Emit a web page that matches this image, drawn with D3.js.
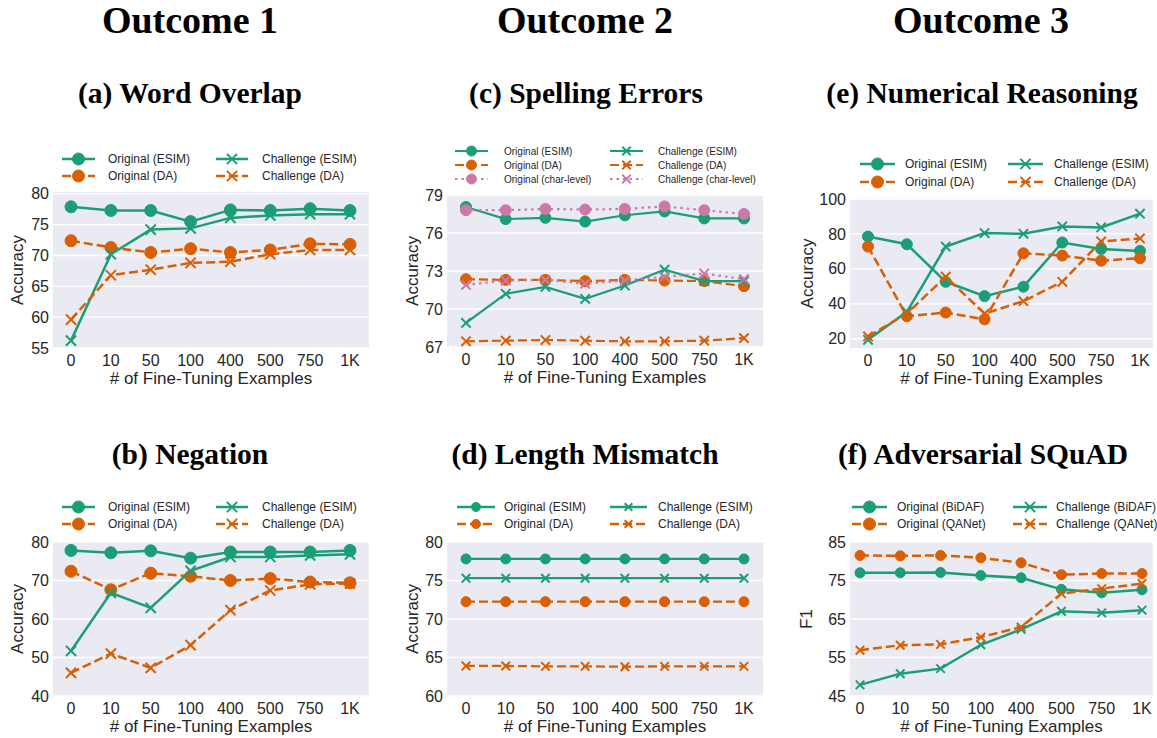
<!DOCTYPE html>
<html><head><meta charset="utf-8">
<script src="https://cdn.jsdelivr.net/npm/d3@7"></script>
<style>body{margin:0;background:#fff}svg{display:block}</style>
</head><body>
<svg id="chart" width="1157" height="738"></svg>
<script>
// ---------- data ----------
const xLabels = ["0","10","50","100","400","500","750","1K"];

const overlapOrigESIM = [77.9, 77.3, 77.3, 75.5, 77.4, 77.3, 77.6, 77.3];
const overlapChalESIM = [56.2, 70.2, 74.2, 74.4, 76.1, 76.5, 76.7, 76.7];
const overlapOrigDA   = [72.4, 71.3, 70.5, 71.1, 70.5, 70.9, 71.9, 71.8];
const overlapChalDA   = [59.6, 66.8, 67.7, 68.8, 69.0, 70.2, 70.9, 70.9];
const overlapTicks    = [55, 60, 65, 70, 75, 80];

const negOrigESIM = [77.8, 77.2, 77.7, 75.8, 77.4, 77.4, 77.4, 77.8];
const negChalESIM = [51.7, 66.8, 62.9, 72.5, 76.1, 76.1, 76.5, 76.8];
const negOrigDA   = [72.4, 67.6, 71.9, 71.1, 70.0, 70.5, 69.6, 69.4];
const negChalDA   = [46.0, 51.0, 47.3, 53.2, 62.3, 67.4, 69.0, 69.2];
const negTicks    = [40, 50, 60, 70, 80];

const spellOrigESIM = [78.05, 77.1, 77.2, 76.9, 77.4, 77.7, 77.15, 77.15];
const spellChalESIM = [68.9, 71.2, 71.75, 70.8, 71.85, 73.1, 72.2, 72.2];
const spellOrigDA   = [72.35, 72.3, 72.3, 72.2, 72.3, 72.25, 72.2, 71.8];
const spellChalDA   = [67.45, 67.5, 67.55, 67.5, 67.45, 67.45, 67.5, 67.7];
const spellOrigChar = [77.8, 77.8, 77.9, 77.85, 77.9, 78.1, 77.8, 77.5];
const spellChalChar = [71.9, 72.25, 72.3, 72.0, 72.25, 72.55, 72.8, 72.35];
const spellTicks    = [67, 70, 73, 76, 79];

const lenOrigESIM = [77.8, 77.8, 77.8, 77.8, 77.8, 77.8, 77.8, 77.8];
const lenChalESIM = [75.3, 75.3, 75.3, 75.3, 75.3, 75.3, 75.3, 75.3];
const lenOrigDA   = [72.25, 72.25, 72.25, 72.25, 72.25, 72.25, 72.25, 72.25];
const lenChalDA   = [63.9, 63.9, 63.85, 63.85, 63.8, 63.85, 63.85, 63.85];
const lenTicks    = [60, 65, 70, 75, 80];

const numOrigESIM = [78.5, 74.1, 52.6, 44.4, 49.8, 75.1, 71.4, 70.3];
const numChalESIM = [19.4, 35.4, 72.8, 80.5, 80.1, 84.3, 83.7, 91.6];
const numOrigDA   = [72.8, 32.9, 35.0, 31.1, 68.9, 67.6, 64.7, 66.1];
const numChalDA   = [21.3, 34.4, 55.5, 34.4, 41.5, 52.6, 75.7, 77.4];
const numTicks    = [20, 40, 60, 80, 100];

const squadOrigBiDAF = [77.0, 77.0, 77.1, 76.3, 75.7, 72.7, 71.8, 72.6];
const squadChalBiDAF = [47.9, 50.8, 52.1, 58.3, 62.3, 67.0, 66.6, 67.3];
const squadOrigQANet = [81.5, 81.4, 81.5, 80.9, 79.6, 76.5, 76.8, 76.8];
const squadChalQANet = [56.9, 58.2, 58.4, 60.3, 62.9, 71.6, 72.9, 74.2];
const squadTicks     = [45, 55, 65, 75, 85];

const outcomeTitles = ["Outcome 1", "Outcome 2", "Outcome 3"];

// ---------- styles ----------
const GREEN = "#1b9e77", ORANGE = "#d95f02", PINK = "#cc78a8";
const SOLID = null, DASH = "9,4", DOT = "2.5,4";
const SANS = "'Liberation Sans', Arial, sans-serif";
const SERIF = "'Liberation Serif', 'Times New Roman', serif";

const svg = d3.select("#chart");

function markerPath(sel, shape, r) {
  if (shape === "o") {
    sel.append("circle").attr("r", r);
  } else {
    const s = r * 0.85;
    sel.append("path").attr("d", `M${-s},${-s}L${s},${s}M${-s},${s}L${s},${-s}`)
      .attr("fill", "none").attr("stroke-width", 2);
  }
}

function drawPanel(cfg) {
  const g = svg.append("g");
  const x = d3.scalePoint().domain(xLabels).range(cfg.xr);
  const y = d3.scaleLinear().domain(cfg.yd).range([cfg.bottom, cfg.top]);

  g.append("rect").attr("x", cfg.left).attr("y", cfg.top)
    .attr("width", cfg.right - cfg.left).attr("height", cfg.bottom - cfg.top)
    .attr("fill", "#eaeaf2");

  g.selectAll(".grid").data(cfg.ticks).enter().append("line")
    .attr("x1", cfg.left).attr("x2", cfg.right)
    .attr("y1", d => y(d)).attr("y2", d => y(d))
    .attr("stroke", "#fff").attr("stroke-width", 1.3);

  g.selectAll(".yt").data(cfg.ticks).enter().append("text")
    .attr("x", cfg.left - 4).attr("y", d => y(d)).attr("dy", "0.35em")
    .attr("text-anchor", "end").attr("font-family", SANS).attr("font-size", 16)
    .attr("fill", "#262626").text(d => d);

  g.selectAll(".xt").data(xLabels).enter().append("text")
    .attr("x", d => x(d)).attr("y", cfg.bottom + 18)
    .attr("text-anchor", "middle").attr("font-family", SANS).attr("font-size", 16)
    .attr("fill", "#262626").text(d => d);

  g.append("text").attr("x", (cfg.left + cfg.right) / 2).attr("y", cfg.bottom + 36)
    .attr("text-anchor", "middle").attr("font-family", SANS).attr("font-size", 17)
    .attr("fill", "#262626").text("# of Fine-Tuning Examples");

  g.append("text").attr("transform", `translate(${cfg.ylx},${(cfg.top + cfg.bottom) / 2}) rotate(-90)`)
    .attr("text-anchor", "middle").attr("dy", "0.35em").attr("font-family", SANS)
    .attr("font-size", 17).attr("fill", "#262626").text(cfg.ylabel);

  g.append("text").attr("x", cfg.tx).attr("y", cfg.ty)
    .attr("text-anchor", "middle").attr("font-family", SERIF).attr("font-weight", "bold")
    .attr("font-size", 29.5).attr("fill", "#000").text(cfg.title);

  const line = d3.line().x((d, i) => x(xLabels[i])).y(d => y(d));
  cfg.series.forEach(s => {
    const sg = g.append("g");
    sg.append("path").datum(s.values).attr("d", line).attr("fill", "none")
      .attr("stroke", s.color).attr("stroke-width", cfg.lw)
      .attr("stroke-dasharray", s.dash);
    s.values.forEach((v, i) => {
      const m = sg.append("g").attr("transform", `translate(${x(xLabels[i])},${y(v)})`)
        .attr("fill", s.color).attr("stroke", s.color);
      markerPath(m, s.marker, cfg.mr);
    });
  });

  cfg.series.forEach(s => {
    const lx = cfg.legCols[s.col], ly = cfg.legRows[s.row];
    const lg = g.append("g");
    lg.append("line").attr("x1", lx[0]).attr("x2", lx[1]).attr("y1", ly).attr("y2", ly)
      .attr("stroke", s.color).attr("stroke-width", cfg.lw).attr("stroke-dasharray", s.dash);
    const m = lg.append("g").attr("transform", `translate(${(lx[0] + lx[1]) / 2},${ly})`)
      .attr("fill", s.color).attr("stroke", s.color);
    markerPath(m, s.marker, cfg.lmr);
    lg.append("text").attr("x", lx[2]).attr("y", ly).attr("dy", "0.35em")
      .attr("font-family", SANS).attr("font-size", cfg.lfs).attr("fill", "#262626")
      .text(s.name);
  });
}

function fourSeries(a, b, c, d, m1, m2) {
  return [
    {name: `Original (${m1})`, values: a, color: GREEN, dash: SOLID, marker: "o", col: 0, row: 0},
    {name: `Original (${m2})`, values: c, color: ORANGE, dash: DASH, marker: "o", col: 0, row: 1},
    {name: `Challenge (${m1})`, values: b, color: GREEN, dash: SOLID, marker: "x", col: 1, row: 0},
    {name: `Challenge (${m2})`, values: d, color: ORANGE, dash: DASH, marker: "x", col: 1, row: 1}
  ];
}

const headerX = [190, 585, 981];
outcomeTitles.forEach((t, i) => {
  svg.append("text").attr("x", headerX[i]).attr("y", 33).attr("text-anchor", "middle")
    .attr("font-family", SERIF).attr("font-weight", "bold").attr("font-size", 38)
    .attr("fill", "#000").text(t);
});

drawPanel({
  title: "(a) Word Overlap", tx: 190, ty: 103, ylabel: "Accuracy", ylx: 17,
  left: 53, right: 369, top: 192, bottom: 348, xr: [71, 350], yd: [55, 80.3],
  ticks: overlapTicks, lw: 2.5, mr: 6, lmr: 6, lfs: 12,
  legRows: [159, 176], legCols: [[62, 95, 108], [216, 248, 262]],
  series: fourSeries(overlapOrigESIM, overlapChalESIM, overlapOrigDA, overlapChalDA, "ESIM", "DA")
});

drawPanel({
  title: "(b) Negation", tx: 190, ty: 464, ylabel: "Accuracy", ylx: 17,
  left: 53, right: 369, top: 542, bottom: 696, xr: [71, 350], yd: [40, 80],
  ticks: negTicks, lw: 2.5, mr: 6, lmr: 6, lfs: 12,
  legRows: [507, 524], legCols: [[62, 95, 108], [216, 248, 262]],
  series: fourSeries(negOrigESIM, negChalESIM, negOrigDA, negChalDA, "ESIM", "DA")
});

drawPanel({
  title: "(c) Spelling Errors", tx: 586, ty: 103, ylabel: "Accuracy", ylx: 412,
  left: 447, right: 763, top: 195, bottom: 347, xr: [466, 744], yd: [67, 79],
  ticks: spellTicks, lw: 2.2, mr: 5.5, lmr: 5, lfs: 10,
  legRows: [151, 165, 179], legCols: [[455, 488, 504], [610, 643, 658]],
  series: [
    {name: "Original (ESIM)", values: spellOrigESIM, color: GREEN, dash: SOLID, marker: "o", col: 0, row: 0},
    {name: "Original (DA)", values: spellOrigDA, color: ORANGE, dash: DASH, marker: "o", col: 0, row: 1},
    {name: "Original (char-level)", values: spellOrigChar, color: PINK, dash: DOT, marker: "o", col: 0, row: 2},
    {name: "Challenge (ESIM)", values: spellChalESIM, color: GREEN, dash: SOLID, marker: "x", col: 1, row: 0},
    {name: "Challenge (DA)", values: spellChalDA, color: ORANGE, dash: DASH, marker: "x", col: 1, row: 1},
    {name: "Challenge (char-level)", values: spellChalChar, color: PINK, dash: DOT, marker: "x", col: 1, row: 2}
  ]
});

drawPanel({
  title: "(d) Length Mismatch", tx: 585, ty: 464, ylabel: "Accuracy", ylx: 412,
  left: 447, right: 763, top: 542, bottom: 696, xr: [466, 744], yd: [60, 80],
  ticks: lenTicks, lw: 2.3, mr: 5, lmr: 4.5, lfs: 12,
  legRows: [507, 524], legCols: [[457, 495, 504], [610, 647, 658]],
  series: fourSeries(lenOrigESIM, lenChalESIM, lenOrigDA, lenChalDA, "ESIM", "DA")
});

drawPanel({
  title: "(e) Numerical Reasoning", tx: 982, ty: 103, ylabel: "Accuracy", ylx: 807,
  left: 850, right: 1153, top: 199, bottom: 348, xr: [868, 1140], yd: [14.7, 100],
  ticks: numTicks, lw: 2.5, mr: 5.5, lmr: 6, lfs: 12,
  legRows: [164, 182], legCols: [[860, 895, 905], [1008, 1043, 1054]],
  series: fourSeries(numOrigESIM, numChalESIM, numOrigDA, numChalDA, "ESIM", "DA")
});

drawPanel({
  title: "(f) Adversarial SQuAD", tx: 983, ty: 464, ylabel: "F1", ylx: 806,
  left: 850, right: 1153, top: 542, bottom: 696, xr: [860, 1142], yd: [45, 85],
  ticks: squadTicks, lw: 2.5, mr: 5, lmr: 6, lfs: 12,
  legRows: [507, 524], legCols: [[852, 887, 897], [1013, 1047, 1056]],
  series: fourSeries(squadOrigBiDAF, squadChalBiDAF, squadOrigQANet, squadChalQANet, "BiDAF", "QANet")
});
</script>
</body></html>
